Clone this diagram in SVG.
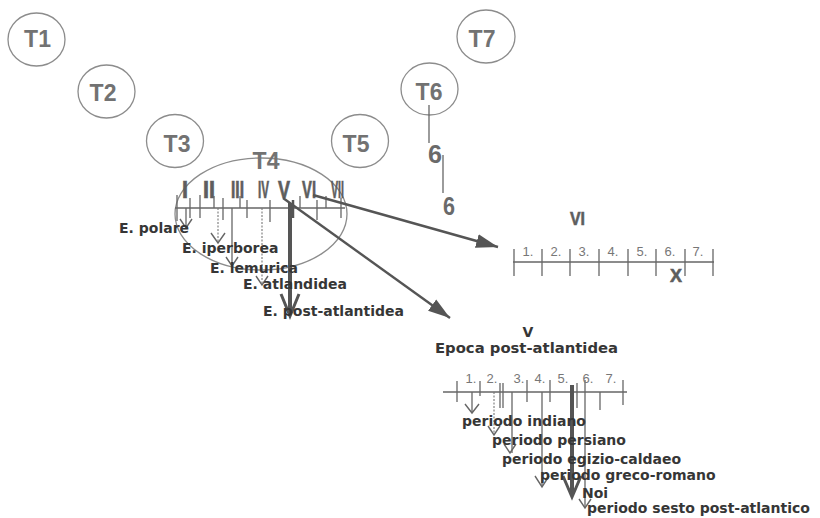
<svg xmlns="http://www.w3.org/2000/svg" width="820" height="518" viewBox="0 0 820 518">
<defs>
<marker id="big" markerUnits="userSpaceOnUse" markerWidth="24" markerHeight="16" refX="22" refY="8" orient="auto"><path d="M0,1 L22,8 L0,15 Z" fill="#555"/></marker>
</defs>
<style>
.c{fill:none;stroke:#8c8c8c;stroke-width:1.3}
.t{font-family:"Liberation Sans",Arial,sans-serif;font-weight:bold;font-size:23px;fill:#727272;text-anchor:middle}
.lbl{font-family:"DejaVu Sans",Verdana,sans-serif;font-weight:bold;font-size:14px;fill:#363636}
.num{font-family:"Liberation Sans",Arial,sans-serif;font-size:13px;fill:#777;text-anchor:middle}
.rom{font-family:"Liberation Sans",Arial,sans-serif;font-weight:bold;font-size:24px;fill:#5e5e5e;stroke:#5e5e5e;stroke-width:0.7}
.ln{stroke:#666;stroke-width:1.3;fill:none}
.dot{stroke:#777;stroke-width:1.1;fill:none;stroke-dasharray:2 1.5}
.thk{stroke:#555;stroke-width:4;fill:none}
.arr{stroke:#555;stroke-width:2.4;fill:none}
.head{stroke:#666;stroke-width:1.4;fill:none}
</style>

<g id="T1"><ellipse class="c" cx="36.5" cy="39.5" rx="28.5" ry="26.5"/><text class="t" x="37.5" y="47">T1</text></g>
<g id="T2"><ellipse class="c" cx="106.5" cy="91.5" rx="28.5" ry="26.5"/><text class="t" x="103" y="101">T2</text></g>
<g id="T3"><ellipse class="c" cx="175" cy="141" rx="28.5" ry="26.5"/><text class="t" x="177" y="152">T3</text></g>
<g id="T5"><ellipse class="c" cx="360" cy="141" rx="28.5" ry="26.5"/><text class="t" x="356" y="152">T5</text></g>
<g id="T6"><ellipse class="c" cx="429.5" cy="89" rx="28.5" ry="26"/><text class="t" x="429" y="100">T6</text></g>
<g id="T7"><ellipse class="c" cx="486" cy="36.5" rx="29" ry="26.5"/><text class="t" x="482" y="47">T7</text></g>

<g id="T4">
<ellipse class="c" cx="261" cy="214" rx="86" ry="56"/>
<text class="t" x="266" y="169">T4</text>
<line class="ln" x1="175" y1="208" x2="345" y2="208"/>
<g class="ln">
<line x1="177" y1="195" x2="177" y2="221"/>
<line x1="200" y1="195" x2="200" y2="218"/>
<line x1="223" y1="198" x2="223" y2="220"/>
<line x1="247" y1="200" x2="247" y2="218"/>
<line x1="270" y1="200" x2="270" y2="222"/>
<line x1="317" y1="200" x2="317" y2="220"/>
<line x1="341" y1="198" x2="341" y2="218"/>
<line x1="190" y1="198" x2="190" y2="218"/>
<line x1="214" y1="196" x2="214" y2="208"/>
<line x1="240" y1="196" x2="240" y2="208"/>
<line x1="300" y1="196" x2="300" y2="208"/>
<line x1="326" y1="196" x2="326" y2="208"/>
</g>
<line x1="293" y1="200" x2="293" y2="218" stroke="#555" stroke-width="2.5"/>
<g class="rom">
<text x="182" y="198" textLength="6" lengthAdjust="spacingAndGlyphs">I</text>
<text x="203" y="198" textLength="12" lengthAdjust="spacingAndGlyphs">II</text>
<text x="231" y="198" textLength="13" lengthAdjust="spacingAndGlyphs">III</text>
<text x="258" y="198" textLength="11" lengthAdjust="spacingAndGlyphs">IV</text>
<text x="278" y="198" textLength="12" lengthAdjust="spacingAndGlyphs">V</text>
<text x="302" y="198" textLength="14" lengthAdjust="spacingAndGlyphs">VI</text>
<text x="331" y="198" textLength="13" lengthAdjust="spacingAndGlyphs">VII</text>
</g>
<line class="ln" x1="186" y1="208" x2="186" y2="228"/>
<polyline class="head" points="180,219 186,228 192,219"/>
<line class="dot" x1="218" y1="208" x2="218" y2="243"/>
<polyline class="head" points="211,233 218,243 225,233"/>
<line class="ln" x1="232" y1="208" x2="232" y2="266"/>
<polyline class="head" points="226,257 232,266 238,257"/>
<line class="dot" x1="262" y1="208" x2="262" y2="285"/>
<polyline class="head" points="256,276 262,285 268,276"/>
<line class="thk" x1="290" y1="203" x2="290" y2="314"/>
<polyline class="head" style="stroke-width:3;stroke:#555" points="281,294 290,316 299,294"/>
</g>

<g id="epochs" class="lbl">
<text x="119" y="233">E. polare</text>
<text x="182" y="253">E. iperborea</text>
<text x="210" y="273">E. lemurica</text>
<text x="243" y="289">E. atlandidea</text>
<text x="263" y="316">E. post-atlantidea</text>
</g>

<g id="sixes">
<line class="ln" x1="429" y1="105" x2="429" y2="143"/>
<text x="435" y="163" font-family="Liberation Sans, Arial, sans-serif" font-weight="bold" font-size="26" fill="#6a6a6a" text-anchor="middle" textLength="14" lengthAdjust="spacingAndGlyphs">6</text>
<line class="ln" x1="443" y1="155" x2="443" y2="193"/>
<text x="449" y="215" font-family="Liberation Sans, Arial, sans-serif" font-weight="bold" font-size="26" fill="#6a6a6a" text-anchor="middle" textLength="12" lengthAdjust="spacingAndGlyphs">6</text>
</g>

<g id="connectors">
<line class="arr" x1="313" y1="195" x2="498" y2="247" marker-end="url(#big)"/>
<line class="arr" x1="283" y1="198" x2="450" y2="318" marker-end="url(#big)"/>
</g>

<g id="VI-scale">
<text x="570" y="225" font-family="Liberation Sans, Arial, sans-serif" font-weight="bold" font-size="19" fill="#5e5e5e" stroke="#5e5e5e" stroke-width="0.6" textLength="15" lengthAdjust="spacingAndGlyphs">VI</text>
<line class="ln" x1="513" y1="262" x2="714" y2="262"/>
<g class="ln">
<line x1="514" y1="249" x2="514" y2="276"/>
<line x1="542" y1="249" x2="542" y2="276"/>
<line x1="570" y1="249" x2="570" y2="276"/>
<line x1="599" y1="249" x2="599" y2="276"/>
<line x1="628" y1="249" x2="628" y2="276"/>
<line x1="656" y1="249" x2="656" y2="276"/>
<line x1="685" y1="249" x2="685" y2="276"/>
<line x1="713" y1="249" x2="713" y2="276"/>
</g>
<g class="num">
<text x="528" y="256">1.</text><text x="556" y="256">2.</text><text x="584" y="256">3.</text><text x="613" y="256">4.</text><text x="642" y="256">5.</text><text x="670" y="256">6.</text><text x="698" y="256">7.</text>
</g>
<text x="676" y="282" font-family="Liberation Sans, Arial, sans-serif" font-weight="bold" font-size="19" fill="#5e5e5e" stroke="#5e5e5e" stroke-width="0.6" text-anchor="middle" textLength="12" lengthAdjust="spacingAndGlyphs">X</text>
</g>

<g id="V-scale">
<text class="lbl" x="528" y="337" text-anchor="middle" font-size="15">V</text>
<text class="lbl" x="435" y="353" textLength="183" lengthAdjust="spacingAndGlyphs">Epoca  post-atlantidea</text>
<line class="ln" x1="443" y1="392" x2="627" y2="392"/>
<g class="ln">
<line x1="457" y1="381" x2="457" y2="402"/>
<line x1="480" y1="381" x2="480" y2="396"/>
<line x1="500" y1="383" x2="500" y2="408"/>
<line x1="503" y1="383" x2="503" y2="408"/>
<line x1="527" y1="380" x2="527" y2="402"/>
<line x1="550" y1="380" x2="550" y2="402"/>
<line x1="577" y1="383" x2="577" y2="408"/>
<line x1="585" y1="380" x2="585" y2="410"/>
<line x1="600" y1="392" x2="600" y2="410"/>
<line x1="623" y1="380" x2="623" y2="405"/>
</g>
<g class="num">
<text x="471" y="383">1.</text><text x="492" y="383">2.</text><text x="519" y="383">3.</text><text x="540" y="383">4.</text><text x="563" y="383">5.</text><text x="588" y="383">6.</text><text x="611" y="383">7.</text>
</g>
<line class="ln" x1="472" y1="392" x2="472" y2="413"/>
<polyline class="head" points="465,404 472,413 479,404"/>
<line class="dot" x1="494" y1="392" x2="494" y2="435"/>
<polyline class="head" points="488,426 494,435 500,426"/>
<line class="ln" x1="512" y1="392" x2="512" y2="453"/>
<polyline class="head" points="504,444 510,453 516,444"/>
<line class="ln" x1="542" y1="392" x2="542" y2="487"/>
<polyline class="head" points="535,476 542,487 549,476"/>
<line class="thk" x1="572" y1="385" x2="572" y2="495"/>
<polyline class="head" style="stroke-width:3;stroke:#555" points="563,476 572,497 581,476"/>
<line class="ln" x1="585" y1="410" x2="585" y2="508"/>
<polyline class="head" points="579,499 585,508 591,499"/>
</g>

<g id="periods" class="lbl">
<text x="462" y="426">periodo indiano</text>
<text x="492" y="445">periodo persiano</text>
<text x="502" y="464">periodo egizio-caldaeo</text>
<text x="540" y="480">periodo greco-romano</text>
<text x="582" y="498">Noi</text>
<text x="587" y="513">periodo sesto post-atlantico</text>
</g>
</svg>
